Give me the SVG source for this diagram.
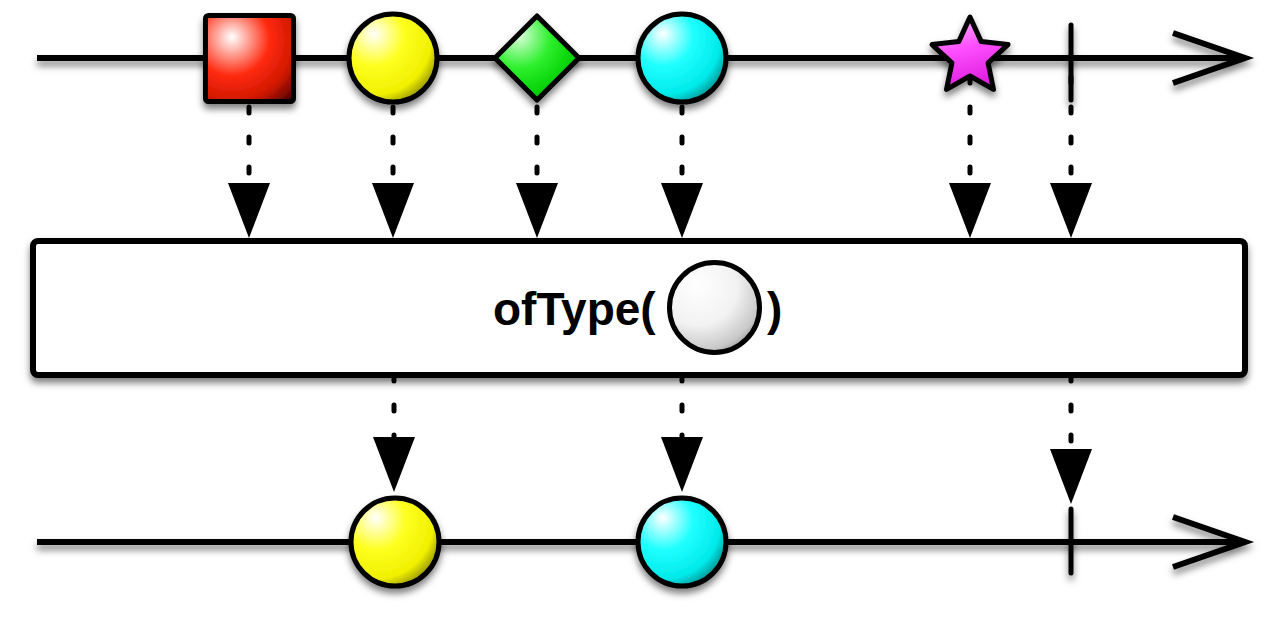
<svg xmlns="http://www.w3.org/2000/svg" width="1280" height="620" viewBox="0 0 1280 620">
<defs>
<filter id="sh" filterUnits="userSpaceOnUse" x="0" y="0" width="1280" height="620">
<feDropShadow dx="0" dy="5" stdDeviation="3.5" flood-color="#000" flood-opacity="0.5"/>
</filter>
<radialGradient id="gRed" cx="0.3" cy="0.3" r="0.95" fx="0.3" fy="0.25">
<stop offset="0" stop-color="#ffffff"/><stop offset="0.45" stop-color="#ff2a10"/><stop offset="0.75" stop-color="#d01800"/><stop offset="1" stop-color="#500000"/>
</radialGradient>
<radialGradient id="gYel" cx="0.3" cy="0.3" r="0.85" fx="0.28" fy="0.22">
<stop offset="0" stop-color="#ffffff"/><stop offset="0.4" stop-color="#ffff20"/><stop offset="0.75" stop-color="#f0f000"/><stop offset="1" stop-color="#6a6a00"/>
</radialGradient>
<radialGradient id="gCya" cx="0.3" cy="0.3" r="0.85" fx="0.28" fy="0.22">
<stop offset="0" stop-color="#ffffff"/><stop offset="0.4" stop-color="#20ffff"/><stop offset="0.75" stop-color="#00eaea"/><stop offset="1" stop-color="#006a6a"/>
</radialGradient>
<radialGradient id="gGrn" cx="0.3" cy="0.3" r="0.9" fx="0.28" fy="0.22">
<stop offset="0" stop-color="#e0ffe0"/><stop offset="0.4" stop-color="#30f030"/><stop offset="0.75" stop-color="#00d000"/><stop offset="1" stop-color="#006000"/>
</radialGradient>
<linearGradient id="gMag" x1="0" y1="0" x2="0.3" y2="1">
<stop offset="0" stop-color="#ffc8ff"/><stop offset="0.5" stop-color="#ff50ff"/><stop offset="1" stop-color="#e020e0"/>
</linearGradient>
<radialGradient id="gWht" cx="0.35" cy="0.3" r="0.85" fx="0.3" fy="0.25">
<stop offset="0" stop-color="#ffffff"/><stop offset="0.5" stop-color="#f2f2f2"/><stop offset="0.8" stop-color="#c8c8c8"/><stop offset="1" stop-color="#707070"/>
</radialGradient>
<style>
.tl{fill:none;stroke:#000;stroke-width:6;}
.sh{stroke:#000;stroke-width:5;stroke-linejoin:round;}
.dash{fill:none;stroke:#000;stroke-width:5;stroke-linecap:round;stroke-dasharray:6 24;}
.tri{fill:#000;}
.end{stroke:#000;stroke-width:5;stroke-linecap:round;}
.lbl{font-family:"Liberation Sans",Arial,Helvetica,sans-serif;font-weight:bold;font-size:46px;fill:#000;}
</style>
</defs>
<rect width="1280" height="620" fill="#fff"/>

<g id="timelines" filter="url(#sh)">
<path class="tl" d="M37,58 H1243 M1173,33 L1245,58 L1173,83"/>
<path class="tl" d="M37,542 H1243 M1173,517 L1245,542 L1173,567"/>
</g>

<g id="connectors">
<line class="dash" x1="249" y1="77" x2="249" y2="183"/>
<line class="dash" x1="393" y1="77" x2="393" y2="183"/>
<line class="dash" x1="537" y1="77" x2="537" y2="183"/>
<line class="dash" x1="682" y1="77" x2="682" y2="183"/>
<line class="dash" x1="970" y1="77" x2="970" y2="183"/>
<line class="dash" x1="1071" y1="77" x2="1071" y2="183"/>
<polygon class="tri" points="228,183 270,183 249,238"/>
<polygon class="tri" points="372,183 414,183 393,238"/>
<polygon class="tri" points="516,183 558,183 537,238"/>
<polygon class="tri" points="661,183 703,183 682,238"/>
<polygon class="tri" points="949,183 991,183 970,238"/>
<polygon class="tri" points="1050,183 1092,183 1071,238"/>
<line class="dash" x1="394" y1="375" x2="394" y2="437"/>
<line class="dash" x1="682" y1="375" x2="682" y2="437"/>
<line class="dash" x1="1071" y1="375" x2="1071" y2="449"/>
<polygon class="tri" points="373,437 415,437 394,492"/>
<polygon class="tri" points="661,437 703,437 682,492"/>
<polygon class="tri" points="1050,449 1092,449 1071,504"/>
</g>

<g id="operator">
<rect x="33" y="241" width="1212" height="134" rx="5" fill="#fff" stroke="#000" stroke-width="6" filter="url(#sh)"/>
<text class="lbl" x="493" y="325">ofType(</text>
<circle cx="714.5" cy="307.5" r="45" fill="url(#gWht)" stroke="#000" stroke-width="5"/>
<text class="lbl" x="767" y="325">)</text>
</g>

<g id="in-square" filter="url(#sh)"><rect class="sh" x="205.5" y="15.5" width="88" height="86" rx="3" fill="url(#gRed)"/></g>
<g id="in-yellow" filter="url(#sh)"><circle class="sh" cx="393" cy="58" r="44" fill="url(#gYel)"/></g>
<g id="in-diamond" filter="url(#sh)"><polygon class="sh" points="537,16 579,58 537,100 495,58" fill="url(#gGrn)"/></g>
<g id="in-cyan" filter="url(#sh)"><circle class="sh" cx="682" cy="58" r="44" fill="url(#gCya)"/></g>
<g id="in-star" filter="url(#sh)"><polygon class="sh" points="970,17 981.2,41.6 1008,44.6 988.1,62.9 993.5,89.4 970,76 946.5,89.4 951.9,62.9 932,44.6 958.8,41.6" fill="url(#gMag)" stroke-width="6"/></g>
<g id="in-complete" filter="url(#sh)"><line class="end" x1="1071" y1="25" x2="1071" y2="100"/></g>

<g id="out-yellow" filter="url(#sh)"><circle class="sh" cx="395" cy="542" r="44" fill="url(#gYel)"/></g>
<g id="out-cyan" filter="url(#sh)"><circle class="sh" cx="682" cy="542" r="44" fill="url(#gCya)"/></g>
<g id="out-complete" filter="url(#sh)"><line class="end" x1="1071" y1="509" x2="1071" y2="573"/></g>
</svg>
